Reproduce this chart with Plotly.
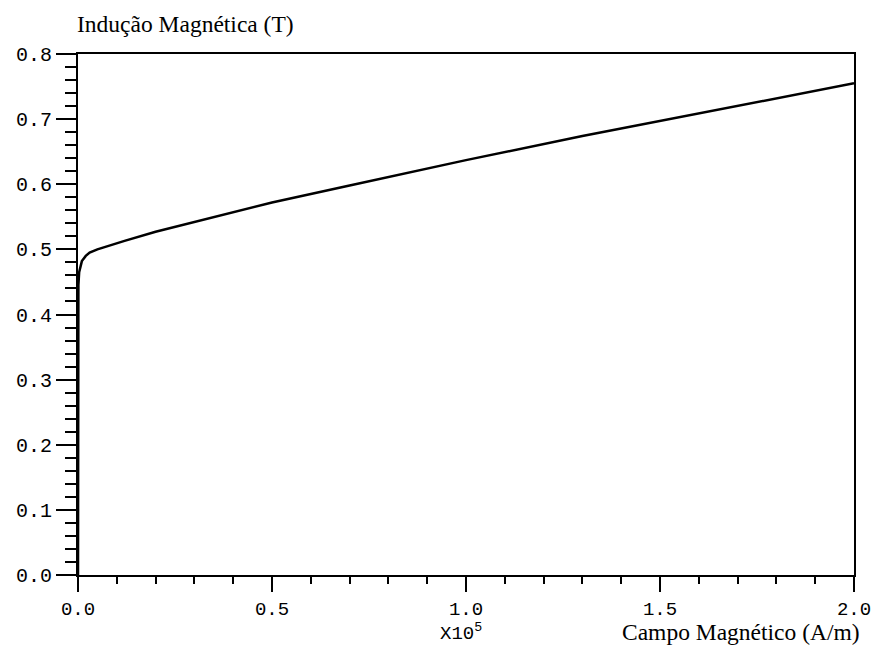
import plotly.graph_objects as go

# Data (H in A/m, B in T)
campo_H = [0, 0, 100, 300, 600, 1000, 2000, 3000, 5000, 8000, 12000, 20000,
           30000, 50000, 70000, 100000, 130000, 150000, 170000, 200000]
inducao_B = [0.0, 0.40, 0.445, 0.465, 0.475, 0.482, 0.49, 0.495, 0.50, 0.506,
             0.513, 0.527, 0.542, 0.572, 0.598, 0.637, 0.674, 0.697, 0.72, 0.755]

x_tick_vals = [0, 50000, 100000, 150000, 200000]
x_tick_text = ["0.0", "0.5", "1.0", "1.5", "2.0"]
y_tick_vals = [0.0, 0.1, 0.2, 0.3, 0.4, 0.5, 0.6, 0.7, 0.8]
y_tick_text = ["0.0", "0.1", "0.2", "0.3", "0.4", "0.5", "0.6", "0.7", "0.8"]

W, H = 883, 655
L, R, T, B = 78, 22, 54, 80
pw, ph = W - L - R, H - T - B

def px(x):
    return (x - L) / pw

def py(y):
    return (H - B - y) / ph

fig = go.Figure()
fig.add_trace(go.Scatter(x=campo_H, y=inducao_B, mode="lines",
                         line=dict(color="black", width=2.5),
                         showlegend=False, hoverinfo="skip"))

mono_x = dict(family="Liberation Mono, Courier New, monospace", size=19, color="black")
mono_y = dict(family="Liberation Mono, Courier New, monospace", size=20, color="black")
serif = dict(family="Liberation Serif, Times New Roman, serif", size=23.5, color="black")

fig.update_xaxes(range=[0, 200000], tickmode="array", tickvals=x_tick_vals,
                 ticktext=x_tick_text, ticks="outside", ticklen=15, tickwidth=2,
                 tickcolor="black", showline=True, linecolor="black", linewidth=2,
                 mirror=True, showgrid=False, zeroline=False, tickfont=mono_x,
                 minor=dict(tick0=0, dtick=10000, ticks="outside", ticklen=7,
                            tickwidth=2, tickcolor="black", showgrid=False))
fig.update_yaxes(range=[0, 0.8], tickmode="array", tickvals=y_tick_vals,
                 ticktext=y_tick_text, ticks="outside", ticklen=20, tickwidth=2,
                 tickcolor="black", showline=True, linecolor="black", linewidth=2,
                 mirror=True, showgrid=False, zeroline=False, tickfont=mono_y,
                 minor=dict(tick0=0, dtick=0.02, ticks="outside", ticklen=11,
                            tickwidth=2, tickcolor="black", showgrid=False))

fig.add_annotation(text="Indução Magnética (T)", xref="paper", yref="paper",
                   x=px(75), y=py(24), xanchor="left", yanchor="middle",
                   showarrow=False, font=serif)
fig.add_annotation(text="Campo Magnético (A/m)", xref="paper", yref="paper",
                   x=px(869), y=py(632), xanchor="right", yanchor="middle",
                   showarrow=False, font=serif)
fig.add_annotation(text="X10<sup>5</sup>", xref="paper", yref="paper",
                   x=px(441), y=py(647), xanchor="left", yanchor="bottom",
                   showarrow=False,
                   font=dict(family="Liberation Mono, Courier New, monospace",
                             size=19, color="black"))

fig.update_layout(width=W, height=H, margin=dict(l=L, r=R, t=T, b=B),
                  paper_bgcolor="white", plot_bgcolor="white")

fig.write_html("out.html")
